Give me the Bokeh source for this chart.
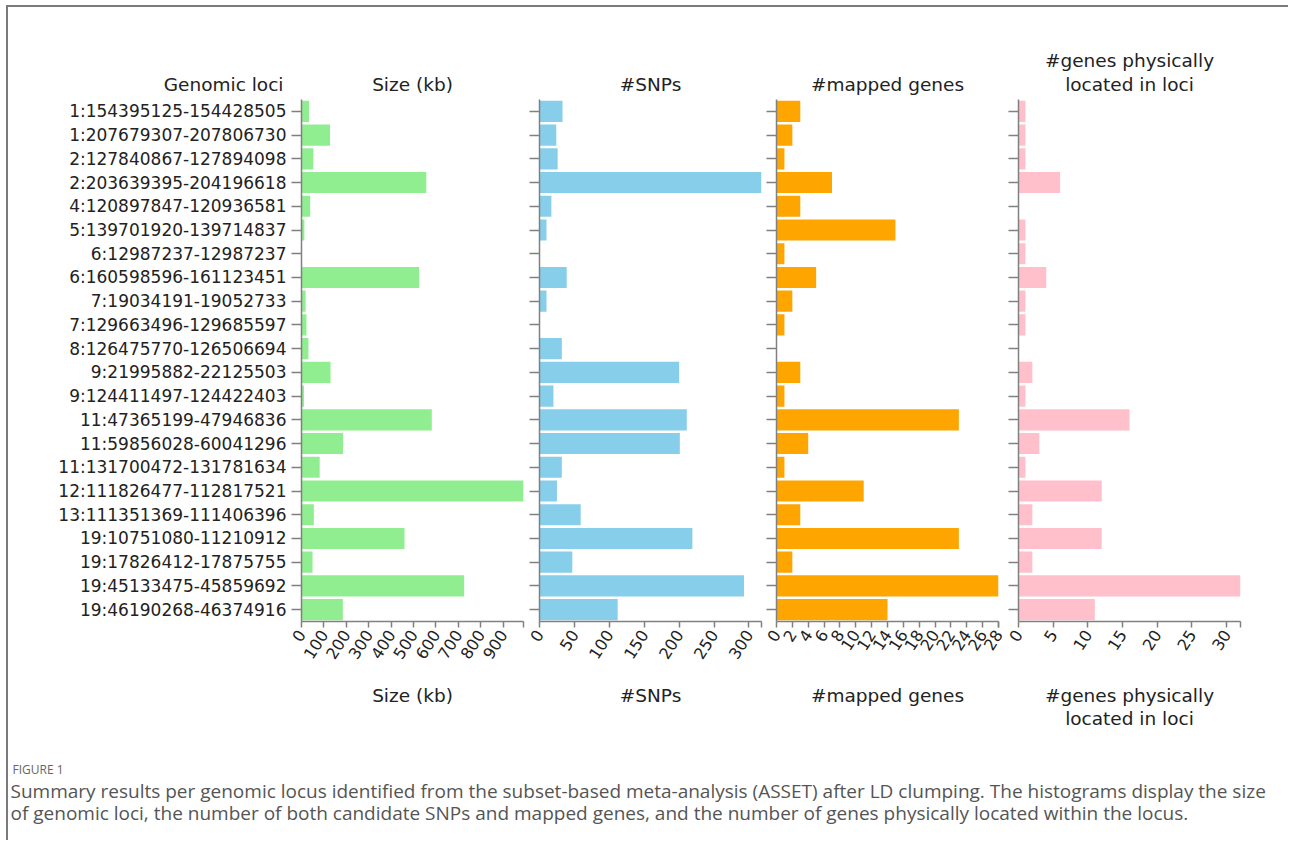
from bokeh.plotting import figure
from bokeh.layouts import row, column
from bokeh.models import FactorRange, Range1d, FixedTicker, Label
from bokeh.embed import file_html
from bokeh.resources import INLINE

# ---------------- data ----------------
loci = [
    "1:154395125-154428505", "1:207679307-207806730", "2:127840867-127894098",
    "2:203639395-204196618", "4:120897847-120936581", "5:139701920-139714837",
    "6:12987237-12987237", "6:160598596-161123451", "7:19034191-19052733",
    "7:129663496-129685597", "8:126475770-126506694", "9:21995882-22125503",
    "9:124411497-124422403", "11:47365199-47946836", "11:59856028-60041296",
    "11:131700472-131781634", "12:111826477-112817521", "13:111351369-111406396",
    "19:10751080-11210912", "19:17826412-17875755", "19:45133475-45859692",
    "19:46190268-46374916",
]
size_kb = [33.4, 127.4, 53.2, 557.2, 38.7, 12.9, 0.0, 524.9, 18.5, 22.1, 30.9,
           129.6, 10.9, 581.6, 185.3, 81.2, 991.0, 55.0, 459.8, 49.3, 726.2, 184.6]
n_snps = [33, 24, 26, 318, 17, 10, 0, 39, 10, 0, 32, 200, 20, 211, 201, 32, 25,
          59, 219, 47, 293, 112]
n_mapped = [3, 2, 1, 7, 3, 15, 1, 5, 2, 1, 0, 3, 1, 23, 4, 1, 11, 3, 23, 2, 28, 14]
n_physical = [1, 1, 1, 6, 0, 1, 1, 4, 1, 1, 0, 2, 1, 16, 3, 1, 12, 2, 12, 2, 32, 11]

size_ticks = [0, 100, 200, 300, 400, 500, 600, 700, 800, 900]
snp_ticks = [0, 50, 100, 150, 200, 250, 300]
mapped_ticks = [0, 2, 4, 6, 8, 10, 12, 14, 16, 18, 20, 22, 24, 26, 28]
physical_ticks = [0, 5, 10, 15, 20, 25, 30]

panel_titles = [["Size (kb)"], ["#SNPs"], ["#mapped genes"],
                ["#genes physically", "located in loci"]]
loci_title = "Genomic loci"
colors = ["#90EE90", "#87CEEB", "#FFA500", "#FFC0CB"]
caption_head = "FIGURE 1"
caption_lines = [
    "Summary results per genomic locus identified from the subset-based "
    "meta-analysis (ASSET) after LD clumping. The histograms display the size",
    "of genomic loci, the number of both candidate SNPs and mapped genes, "
    "and the number of genes physically located within the locus.",
]

FONT = "DejaVu Sans"
AXIS_COL = "#808080"
TEXT_COL = "#222222"
FRAME_H = 522
BOTTOM = 50
TOTAL_W = 1280

# panel geometry: (left border, frame width, right border)
geom = [(293, 222, 4), (12, 222, 3), (12, 222, 8), (12, 222, 48)]


def add_text(p, x, y, text, align="center", size="18.5px", color=TEXT_COL, font=FONT):
    p.add_layout(Label(x=x, y=y, x_units="screen", y_units="screen", text=text,
                       text_align=align, text_baseline="middle", text_font=font,
                       text_font_size=size, text_color=color))


def strip(height):
    s = figure(width=TOTAL_W, height=height, x_range=(0, 1), y_range=(0, 1),
               output_backend="svg", toolbar_location=None, min_border=0,
               x_axis_location=None, y_axis_location=None)
    s.outline_line_color = None
    s.xgrid.grid_line_color = None
    s.ygrid.grid_line_color = None
    return s


def panel(values, ticks, color, g, show_labels):
    left, fw, right = g
    vmax = max(values)
    p = figure(width=left + fw + right, height=FRAME_H + BOTTOM,
               y_range=FactorRange(factors=loci[::-1], range_padding=0),
               x_range=Range1d(0, vmax), output_backend="svg", toolbar_location=None,
               min_border_left=left, min_border_right=right, min_border_top=0,
               min_border_bottom=BOTTOM)
    p.hbar(y=loci, left=0, right=values, height=0.89, color=color, line_color=None)
    p.outline_line_color = None
    p.xgrid.grid_line_color = None
    p.ygrid.grid_line_color = None
    p.xaxis.ticker = FixedTicker(ticks=ticks, minor_ticks=[vmax])
    p.xaxis.major_label_orientation = 1.0
    p.xaxis.major_label_text_font = FONT
    p.xaxis.major_label_text_font_size = "16px"
    p.xaxis.major_label_text_color = TEXT_COL
    p.xaxis.major_label_standoff = 4
    p.xaxis.major_tick_out = 6
    p.xaxis.major_tick_in = 0
    p.xaxis.minor_tick_out = 6
    p.xaxis.minor_tick_in = 0
    p.xaxis.minor_tick_line_color = AXIS_COL
    p.xaxis.minor_tick_line_width = 1.5
    for ax in (p.xaxis, p.yaxis):
        ax.axis_line_color = AXIS_COL
        ax.axis_line_width = 1.5
        ax.major_tick_line_color = AXIS_COL
        ax.major_tick_line_width = 1.5
    p.yaxis.major_tick_out = 10
    p.yaxis.major_tick_in = 0
    if show_labels:
        p.yaxis.major_label_text_font = FONT
        p.yaxis.major_label_text_font_size = "17px"
        p.yaxis.major_label_text_color = TEXT_COL
        p.yaxis.major_label_standoff = 5
    else:
        p.yaxis.major_label_text_font_size = "1px"
        p.yaxis.major_label_text_color = None
        p.yaxis.major_label_standoff = 0
    return p


series = [size_kb, n_snps, n_mapped, n_physical]
tick_sets = [size_ticks, snp_ticks, mapped_ticks, physical_ticks]
panels = [panel(series[i], tick_sets[i], colors[i], geom[i], i == 0) for i in range(4)]

# centres of the panel frames (strip coordinates)
centres = []
x0 = 0
for left, fw, right in geom:
    centres.append(x0 + left + fw / 2)
    x0 += left + fw + right

# header strip (titles above the panels)
head = strip(92)
add_text(head, geom[0][0] - 18, 15, loci_title, align="right")
for cx, t in zip(centres, panel_titles):
    if len(t) == 1:
        add_text(head, cx, 15, t[0])
    else:
        add_text(head, cx, 39, t[0])
        add_text(head, cx, 15, t[1])

# footer strip (axis titles below + figure caption)
foot = strip(169)
for cx, t in zip(centres, panel_titles):
    add_text(foot, cx, 145, t[0])
    if len(t) > 1:
        add_text(foot, cx, 122, t[1])
add_text(foot, 4, 71, caption_head, align="left", size="12px", color="#666666",
         font="Open Sans")
add_text(foot, 2, 50, caption_lines[0], align="left", size="19px", color="#555555",
         font="Open Sans")
add_text(foot, 2, 28, caption_lines[1], align="left", size="19px", color="#555555",
         font="Open Sans")

layout = column(head, row(*panels), foot,
                styles={"border-top": "2px solid #7a7a7a",
                        "border-left": "2px solid #7a7a7a",
                        "margin-left": "6px", "margin-top": "5px"})

open("out.html", "w").write(file_html(layout, INLINE))
